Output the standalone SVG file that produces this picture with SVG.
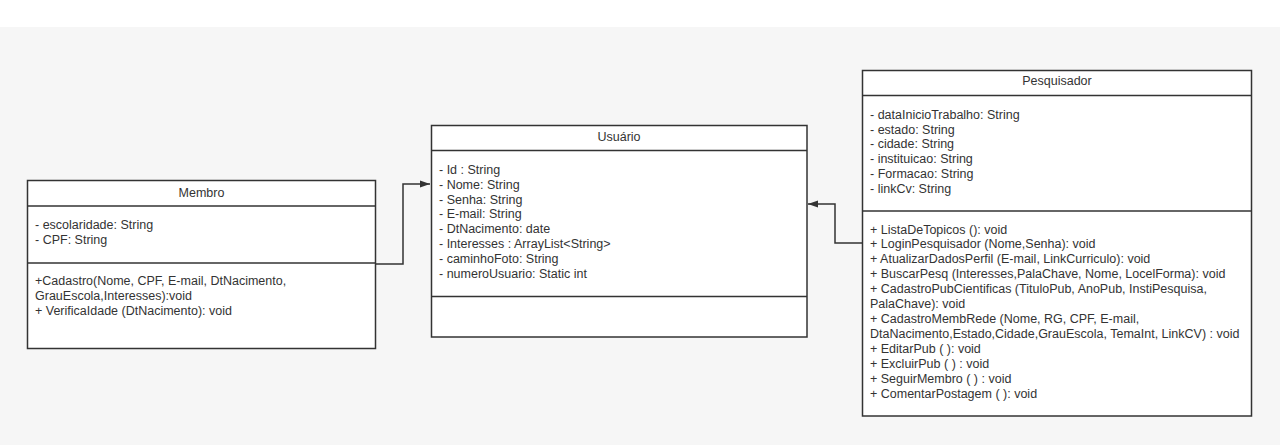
<svg xmlns="http://www.w3.org/2000/svg" width="1280" height="445" viewBox="0 0 1280 445">
<style>
.box{fill:#ffffff;stroke:#333333;stroke-width:1.5}
.div{stroke:#333333;stroke-width:1.5}
.t{font-family:"Liberation Sans",Arial,sans-serif;font-size:12.5px;fill:#333333}
.h{font-family:"Liberation Sans",Arial,sans-serif;font-size:12.5px;fill:#333333;text-anchor:middle}
.c{fill:none;stroke:#333333;stroke-width:1.5}
</style>
<defs>
<marker id="arr" viewBox="0 0 10 10" refX="10" refY="5" markerWidth="10" markerHeight="10" markerUnits="userSpaceOnUse" orient="auto">
<path d="M0,1.5 L10,5 L0,8.5 Z" fill="#333333"/>
</marker>
</defs>
<rect x="0" y="0" width="1280" height="445" fill="#ffffff"/>
<rect x="0" y="27" width="1280" height="418" fill="#f6f6f6"/>

<g id="connectors">
<path class="c" d="M375.5,264 H403 V184 H430" marker-end="url(#arr)"/>
<path class="c" d="M862,243 H835 V204 H808" marker-end="url(#arr)"/>
</g>

<g id="membro">
<rect class="box" x="27.5" y="180.5" width="348" height="168"/>
<line class="div" x1="27.5" y1="206" x2="375.5" y2="206"/>
<line class="div" x1="27.5" y1="263" x2="375.5" y2="263"/>
<text class="h" x="201.5" y="197">Membro</text>
<text class="t" x="35" y="229">- escolaridade: String</text>
<text class="t" x="35" y="244">- CPF: String</text>
<text class="t" x="35" y="285">+Cadastro(Nome, CPF, E-mail, DtNacimento,</text>
<text class="t" x="35" y="300">GrauEscola,Interesses):void</text>
<text class="t" x="35" y="315">+ VerificaIdade (DtNacimento): void</text>
</g>

<g id="usuario">
<rect class="box" x="431.5" y="125.5" width="375.5" height="211.5"/>
<line class="div" x1="431.5" y1="150.5" x2="807" y2="150.5"/>
<line class="div" x1="431.5" y1="296.5" x2="807" y2="296.5"/>
<text class="h" x="619" y="141">Usuário</text>
<text class="t" x="439" y="174">- Id : String</text>
<text class="t" x="439" y="189">- Nome: String</text>
<text class="t" x="439" y="204">- Senha: String</text>
<text class="t" x="439" y="218">- E-mail: String</text>
<text class="t" x="439" y="233">- DtNacimento: date</text>
<text class="t" x="439" y="248">- Interesses : ArrayList&lt;String&gt;</text>
<text class="t" x="439" y="263">- caminhoFoto: String</text>
<text class="t" x="439" y="278">- numeroUsuario: Static int</text>
</g>

<g id="pesquisador">
<rect class="box" x="862.5" y="70.5" width="389" height="345.5"/>
<line class="div" x1="862.5" y1="95.5" x2="1251.5" y2="95.5"/>
<line class="div" x1="862.5" y1="211" x2="1251.5" y2="211"/>
<text class="h" x="1057" y="85">Pesquisador</text>
<text class="t" x="870" y="119">- dataInicioTrabalho: String</text>
<text class="t" x="870" y="134">- estado: String</text>
<text class="t" x="870" y="148">- cidade: String</text>
<text class="t" x="870" y="163">- instituicao: String</text>
<text class="t" x="870" y="178">- Formacao: String</text>
<text class="t" x="870" y="193">- linkCv: String</text>
<text class="t" x="870" y="234">+ ListaDeTopicos (): void</text>
<text class="t" x="870" y="248">+ LoginPesquisador (Nome,Senha): void</text>
<text class="t" x="870" y="263">+ AtualizarDadosPerfil (E-mail, LinkCurriculo): void</text>
<text class="t" x="870" y="278">+ BuscarPesq (Interesses,PalaChave, Nome, LocelForma): void</text>
<text class="t" x="870" y="293">+ CadastroPubCientificas (TituloPub, AnoPub, InstiPesquisa,</text>
<text class="t" x="870" y="308">PalaChave): void</text>
<text class="t" x="870" y="323">+ CadastroMembRede (Nome, RG, CPF, E-mail,</text>
<text class="t" x="870" y="338">DtaNacimento,Estado,Cidade,GrauEscola, TemaInt, LinkCV) : void</text>
<text class="t" x="870" y="353">+ EditarPub ( ): void</text>
<text class="t" x="870" y="368">+ ExcluirPub ( ) : void</text>
<text class="t" x="870" y="383">+ SeguirMembro ( ) : void</text>
<text class="t" x="870" y="398">+ ComentarPostagem ( ): void</text>
</g>
</svg>
